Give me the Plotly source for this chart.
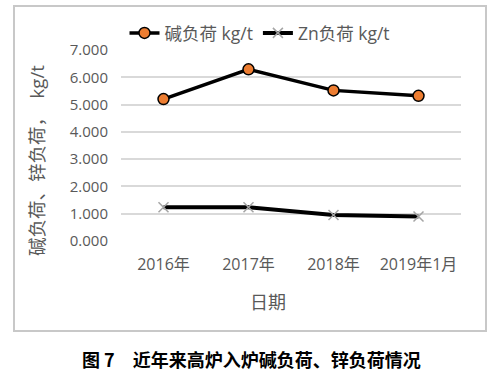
import plotly.graph_objects as go

categories = ["2016年", "2017年", "2018年", "2019年1月"]
alkali = [5.20, 6.29, 5.52, 5.32]
zinc = [1.24, 1.24, 0.95, 0.90]
y_ticks = [0, 1, 2, 3, 4, 5, 6, 7]
y_tick_labels = ["0.000", "1.000", "2.000", "3.000", "4.000", "5.000", "6.000", "7.000"]

FONT = "Open Sans, Noto Sans CJK SC, sans-serif"
GREY = "#595959"

fig = go.Figure()
fig.add_trace(go.Scatter(
    x=categories, y=alkali, name="碱负荷 kg/t", mode="lines+markers",
    line=dict(color="black", width=3.5),
    marker=dict(symbol="circle", size=11, color="#ED7D31", line=dict(color="black", width=1.5)),
))
fig.add_trace(go.Scatter(
    x=categories, y=zinc, name="Zn负荷 kg/t", mode="lines+markers",
    line=dict(color="black", width=4),
    marker=dict(symbol="x-thin-open", size=10, color="#a5a5a5", line=dict(color="#a5a5a5", width=1.5)),
))

fig.update_layout(
    width=500, height=377,
    margin=dict(l=121, r=39, t=50, b=136, autoexpand=False),
    paper_bgcolor="white", plot_bgcolor="white",
    font=dict(family=FONT, size=15, color=GREY),
    showlegend=True,
    legend=dict(orientation="h", x=(260 - 121) / 340, xanchor="center", y=(241 - 33) / 191, yanchor="middle",
                font=dict(size=17.5, color=GREY), itemwidth=30, tracegroupgap=0,
                bgcolor="rgba(0,0,0,0)"),
    xaxis=dict(type="category", range=[-0.5, 3.5], showgrid=False, showline=False, zeroline=False,
               ticks="", tickfont=dict(size=16, color=GREY), automargin=False, ticklabelstandoff=12),
    yaxis=dict(range=[0, 7], tickvals=y_ticks, ticktext=y_tick_labels, automargin=False,
               showgrid=True, gridcolor="#d9d9d9", gridwidth=1.5, zeroline=False,
               showline=False, ticks="", ticklabelstandoff=12,
               tickfont=dict(size=15, color=GREY)),
    shapes=[dict(type="rect", xref="paper", yref="paper",
                 x0=(14 - 121) / 340, x1=(486 - 121) / 340,
                 y0=(241 - 331) / 191, y1=(241 - 6) / 191,
                 line=dict(color="#c8c8c8", width=2), fillcolor="rgba(0,0,0,0)", layer="above")],
    annotations=[
        dict(text="碱负荷、锌负荷，  kg/t", textangle=-90, xref="paper", yref="paper",
             x=(36 - 121) / 340, y=(241 - 161) / 191, xanchor="center", yanchor="middle",
             showarrow=False, font=dict(size=18.5, color=GREY, family=FONT)),
        dict(text="日期", xref="paper", yref="paper",
             x=(268 - 121) / 340, y=(241 - 302) / 191, xanchor="center", yanchor="middle",
             showarrow=False, font=dict(size=18, color=GREY, family=FONT)),
        dict(text="<b>图 7　近年来高炉入炉碱负荷、锌负荷情况</b>", xref="paper", yref="paper",
             x=(251 - 121) / 340, y=(241 - 359) / 191, xanchor="center", yanchor="middle",
             showarrow=False, font=dict(size=18, color="black", family="Noto Sans CJK SC, sans-serif")),
    ],
)

fig.write_html("out.html", config={"displayModeBar": False},
               post_script="document.body.style.margin='0';")
